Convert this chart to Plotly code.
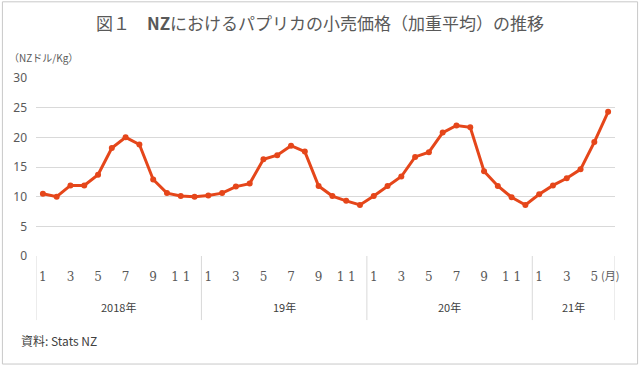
import plotly.graph_objects as go

# Data: monthly retail price of paprika in NZ (NZD/kg), Jan 2018 - Jun 2021
prices = [
    10.5, 10.0, 11.9, 11.9, 13.7, 18.2, 20.0, 18.8, 12.9, 10.6, 10.1, 10.0,   # 2018
    10.2, 10.6, 11.7, 12.2, 16.3, 17.0, 18.6, 17.6, 11.8, 10.1, 9.3, 8.6,     # 2019
    10.1, 11.8, 13.4, 16.7, 17.5, 20.8, 22.0, 21.7, 14.3, 11.8, 9.9, 8.6,     # 2020
    10.4, 11.9, 13.1, 14.6, 19.2, 24.3,                                      # 2021
]
years = ["2018年", "19年", "20年", "21年"]
months_per_year = [12, 12, 12, 6]
month_labels = ["1", "", "3", "", "5", "", "7", "", "9", "", "1 1", ""] * 3 + ["1", "", "3", "", "5", ""]
unit_label = "(月)"
y_ticks = [0, 5, 10, 15, 20, 25, 30]

x_idx = list(range(len(prices)))
grey = "#595959"
line_color = "#E5461A"

fig = go.Figure()
fig.add_trace(go.Scatter(
    x=x_idx, y=prices, mode="lines+markers",
    line=dict(color=line_color, width=3),
    marker=dict(color=line_color, size=6),
    showlegend=False, hoverinfo="skip",
))

shapes = []
# year separators
bounds = [-0.5]
for n in months_per_year:
    bounds.append(bounds[-1] + n)
for b in bounds:
    shapes.append(dict(type="line", xref="x", yref="paper", x0=b, x1=b, y0=0, y1=-0.36,
                       line=dict(color="#D9D9D9", width=1)))
# outer border
shapes.append(dict(type="rect", xref="paper", yref="paper",
                   x0=-0.058, x1=1.039, y0=-0.607, y1=1.428,
                   line=dict(color="#C8C8C8", width=1), fillcolor="rgba(0,0,0,0)",
                   layer="above"))

annotations = []
for i, yl in enumerate(years):
    annotations.append(dict(x=(bounds[i] + bounds[i + 1]) / 2, y=-0.285, xref="x", yref="paper",
                            text=yl, showarrow=False, font=dict(size=11, color="#404040"),
                            xanchor="center", yanchor="middle"))
annotations.append(dict(x=x_idx[-1] + 0.15, y=-0.105, xref="x", yref="paper",
                        text=unit_label, showarrow=False, xanchor="center", yanchor="middle",
                        font=dict(size=11, color=grey, family="Noto Sans CJK JP")))
annotations.append(dict(x=-0.05, y=1.06, xref="paper", yref="paper", xanchor="left", yanchor="bottom",
                        text="（NZドル/Kg）", showarrow=False,
                        font=dict(size=10, color=grey, family="Noto Sans CJK JP")))
annotations.append(dict(x=-0.03, y=-0.475, xref="paper", yref="paper", xanchor="left", yanchor="middle",
                        text="資料: Stats NZ", showarrow=False,
                        font=dict(size=12, color="#404040", family="Noto Sans CJK JP")))

fig.update_layout(
    width=640, height=366,
    margin=dict(l=36, r=25, t=78, b=110),
    paper_bgcolor="white", plot_bgcolor="white",
    title=dict(text="図１　<b>NZ</b>におけるパプリカの小売価格（加重平均）の推移",
               x=0.5, xanchor="center", y=0.935, yanchor="middle",
               font=dict(size=17, color=grey, family="Noto Sans CJK JP")),
    font=dict(family="Noto Sans CJK JP", color=grey),
    shapes=shapes, annotations=annotations,
)
fig.update_xaxes(
    range=[-0.5, len(prices) - 0.5],
    tickmode="array", tickvals=x_idx, ticktext=month_labels,
    ticks="outside", ticklen=10, tickcolor="rgba(0,0,0,0)",
    tickfont=dict(size=12, color=grey, family="DejaVu Serif"),
    showgrid=False, zeroline=False, showline=False, tickangle=0,
)
fig.update_yaxes(
    range=[0, 30], tickvals=y_ticks,
    showgrid=True, gridcolor="#D9D9D9", gridwidth=1,
    zeroline=False, showline=False,
    tickfont=dict(size=12, color=grey, family="Noto Sans"),
    ticklabelstandoff=8,
)

fig.write_html("out.html", config={"displayModeBar": False},
               post_script="document.body.style.margin='0';")
